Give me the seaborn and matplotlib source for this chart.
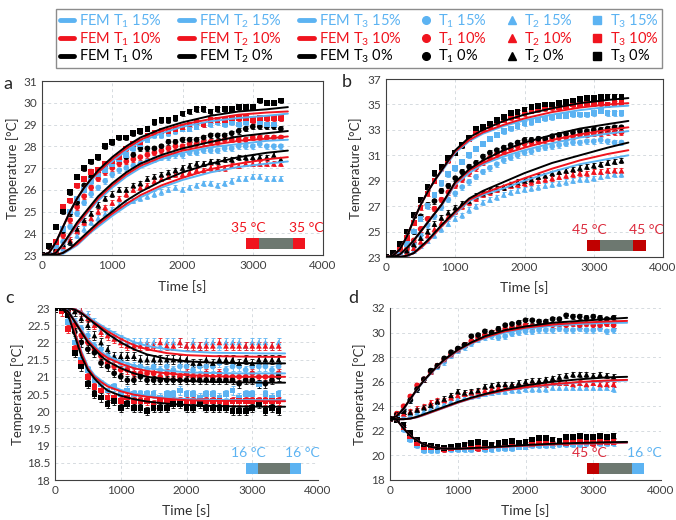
import pandas as pd
import matplotlib
matplotlib.use('Agg')
import matplotlib.pyplot as plt
from matplotlib.lines import Line2D
from matplotlib.patches import Rectangle
from matplotlib.ticker import MultipleLocator, FormatStrFormatter
import seaborn as sns

# measured points every 100 s, FEM curves read at the times below
t_meas = list(range(0, 3500, 100))
t_meas_d = list(range(0, 3400, 100))
t_fem = [0, 100, 200, 300, 400, 500, 600, 700, 800, 1000, 1200, 1400, 1700, 2000, 2400, 2800, 3200, 3500]

# ---- panel a (35 °C / 35 °C)
a_T1_0 = [23.0, 23.0, 23.2, 24.1, 24.9, 25.4, 26.2, 26.6, 26.8, 27.0, 27.2, 27.4, 27.5, 27.6, 27.9, 27.9, 27.9, 28.0, 28.2, 28.2, 28.3, 28.3, 28.3, 28.4, 28.5, 28.5, 28.5, 28.6, 28.7, 28.8, 28.9, 28.9, 28.9, 28.9, 28.8]
a_T1_10 = [23.0, 23.0, 23.1, 23.9, 24.6, 25.2, 25.7, 26.1, 26.5, 26.8, 27.0, 27.2, 27.3, 27.4, 27.5, 27.6, 27.7, 27.8, 27.9, 28.0, 28.0, 28.1, 28.1, 28.2, 28.2, 28.2, 28.3, 28.3, 28.3, 28.3, 28.4, 28.4, 28.4, 28.4, 28.4]
a_T1_15 = [23.0, 23.0, 23.0, 23.6, 24.3, 24.9, 25.4, 25.8, 26.1, 26.4, 26.7, 26.9, 27.0, 27.1, 27.2, 27.3, 27.4, 27.5, 27.5, 27.6, 27.6, 27.7, 27.7, 27.8, 27.8, 27.8, 27.9, 27.9, 28.0, 28.0, 28.0, 28.1, 28.0, 28.0, 28.0]
a_T2_0 = [23.0, 23.0, 23.5, 23.5, 23.6, 24.2, 24.6, 24.9, 25.3, 25.6, 25.8, 26.0, 26.0, 26.2, 26.3, 26.5, 26.6, 26.7, 26.8, 26.9, 27.0, 27.1, 27.2, 27.2, 27.3, 27.3, 27.4, 27.4, 27.5, 27.5, 27.5, 27.5, 27.5, 27.6, 27.4]
a_T2_10 = [23.0, 23.0, 23.2, 23.4, 23.7, 24.1, 24.5, 24.7, 25.0, 25.2, 25.4, 25.6, 25.8, 26.0, 26.1, 26.2, 26.4, 26.5, 26.6, 26.7, 26.7, 26.8, 26.9, 26.9, 27.0, 27.0, 27.0, 27.1, 27.1, 27.2, 27.2, 27.2, 27.2, 27.2, 27.2]
a_T2_15 = [23.0, 23.0, 23.0, 23.3, 23.6, 23.9, 24.2, 24.5, 24.7, 24.9, 25.1, 25.3, 25.4, 25.5, 25.6, 25.7, 25.8, 25.9, 26.0, 26.1, 26.0, 26.1, 26.2, 26.3, 26.3, 26.2, 26.3, 26.4, 26.5, 26.5, 26.6, 26.6, 26.5, 26.5, 26.5]
a_T3_0 = [23.0, 23.4, 24.3, 25.0, 25.9, 26.6, 27.0, 27.3, 27.5, 28.0, 28.2, 28.4, 28.4, 28.6, 28.7, 28.8, 29.1, 29.2, 29.2, 29.3, 29.5, 29.6, 29.7, 29.7, 29.6, 29.7, 29.7, 29.7, 29.8, 29.8, 29.8, 30.1, 30.0, 30.0, 30.1]
a_T3_10 = [23.0, 23.4, 23.6, 25.2, 25.5, 26.2, 26.5, 26.8, 26.9, 27.2, 27.3, 27.5, 27.9, 28.1, 28.2, 28.5, 28.6, 28.7, 28.7, 28.8, 28.9, 29.0, 29.1, 29.0, 29.2, 29.2, 29.2, 29.3, 29.3, 29.3, 29.2, 29.3, 29.3, 29.3, 29.3]
a_T3_15 = [23.0, 23.0, 23.4, 24.2, 25.0, 25.6, 26.0, 26.4, 26.7, 26.9, 27.2, 27.4, 27.6, 27.9, 28.1, 28.3, 28.5, 28.5, 28.6, 28.7, 28.8, 28.8, 28.9, 29.0, 29.0, 29.1, 29.0, 29.1, 29.0, 29.1, 29.2, 29.1, 29.0, 29.0, 29.3]
a_fem_T1_0 = [23.0, 23.0, 23.1, 23.5, 24.0, 24.5, 24.9, 25.3, 25.7, 26.3, 26.8, 27.2, 27.6, 27.9, 28.2, 28.45, 28.6, 28.7]
a_fem_T1_10 = [23.0, 23.0, 23.1, 23.5, 23.95, 24.4, 24.8, 25.2, 25.6, 26.2, 26.7, 27.1, 27.5, 27.8, 28.05, 28.25, 28.35, 28.45]
a_fem_T1_15 = [23.0, 23.0, 23.1, 23.45, 23.9, 24.35, 24.75, 25.15, 25.5, 26.1, 26.6, 27.0, 27.4, 27.7, 27.95, 28.1, 28.25, 28.3]
a_fem_T2_0 = [23.0, 23.0, 23.0, 23.1, 23.3, 23.6, 23.9, 24.2, 24.5, 25.0, 25.5, 25.9, 26.4, 26.8, 27.2, 27.5, 27.7, 27.8]
a_fem_T2_10 = [23.0, 23.0, 23.0, 23.1, 23.3, 23.5, 23.8, 24.1, 24.4, 24.9, 25.35, 25.75, 26.2, 26.55, 26.95, 27.2, 27.4, 27.5]
a_fem_T2_15 = [23.0, 23.0, 23.0, 23.05, 23.25, 23.45, 23.75, 24.05, 24.3, 24.8, 25.25, 25.65, 26.1, 26.45, 26.8, 27.05, 27.2, 27.3]
a_fem_T3_0 = [23.0, 23.1, 23.6, 24.3, 25.0, 25.6, 26.1, 26.5, 26.9, 27.5, 28.0, 28.4, 28.8, 29.1, 29.4, 29.6, 29.7, 29.8]
a_fem_T3_10 = [23.0, 23.1, 23.6, 24.3, 25.0, 25.6, 26.1, 26.5, 26.8, 27.4, 27.9, 28.3, 28.7, 29.0, 29.25, 29.45, 29.55, 29.6]
a_fem_T3_15 = [23.0, 23.1, 23.6, 24.3, 25.0, 25.6, 26.0, 26.4, 26.8, 27.3, 27.8, 28.2, 28.6, 28.9, 29.15, 29.3, 29.4, 29.5]

# ---- panel b (45 °C / 45 °C)
b_T1_0 = [23.0, 23.0, 23.3, 24.0, 25.0, 26.2, 27.1, 27.4, 28.2, 28.6, 29.2, 29.7, 30.1, 30.4, 30.9, 31.2, 31.4, 31.6, 31.8, 32.0, 32.2, 32.2, 32.3, 32.3, 32.5, 32.6, 32.7, 32.8, 32.9, 32.9, 33.0, 33.0, 33.1, 33.2, 33.2]
b_T1_10 = [23.0, 23.0, 23.1, 23.6, 24.3, 25.2, 26.0, 26.8, 27.5, 28.1, 28.6, 29.1, 29.6, 30.0, 30.4, 30.8, 31.1, 31.3, 31.5, 31.7, 31.9, 32.0, 32.1, 32.2, 32.3, 32.4, 32.4, 32.5, 32.6, 32.6, 32.7, 32.7, 32.8, 32.8, 32.8]
b_T1_15 = [23.0, 23.0, 23.0, 23.4, 24.0, 24.7, 25.5, 26.2, 26.9, 27.5, 28.0, 28.5, 28.9, 29.3, 29.7, 30.0, 30.3, 30.6, 30.8, 31.0, 31.2, 31.3, 31.5, 31.6, 31.7, 31.8, 31.9, 32.0, 32.0, 32.1, 32.1, 32.2, 32.1, 32.0, 32.0]
b_T2_0 = [23.0, 23.0, 23.2, 23.5, 24.0, 24.5, 25.0, 25.6, 26.1, 26.5, 26.9, 27.2, 27.4, 27.8, 28.0, 28.2, 28.4, 28.5, 28.7, 28.9, 29.0, 29.1, 29.3, 29.4, 29.6, 29.7, 29.8, 29.9, 30.0, 30.1, 30.2, 30.3, 30.4, 30.5, 30.6]
b_T2_10 = [23.0, 23.0, 23.1, 23.3, 23.7, 24.2, 24.7, 25.2, 25.7, 26.2, 26.6, 27.0, 27.3, 27.6, 27.9, 28.1, 28.3, 28.5, 28.6, 28.7, 28.8, 28.9, 29.0, 29.1, 29.2, 29.3, 29.4, 29.5, 29.6, 29.6, 29.7, 29.7, 29.8, 29.8, 29.8]
b_T2_15 = [23.0, 23.0, 23.0, 23.2, 23.5, 23.9, 24.3, 24.7, 25.2, 25.6, 26.0, 26.3, 26.7, 27.0, 27.3, 27.5, 27.7, 27.9, 28.1, 28.2, 28.3, 28.4, 28.5, 28.6, 28.7, 28.8, 28.9, 29.0, 29.1, 29.1, 29.2, 29.3, 29.4, 29.5, 29.5]
b_T3_0 = [23.0, 23.3, 24.0, 25.0, 26.3, 27.5, 28.5, 29.6, 30.1, 30.8, 31.2, 31.8, 32.4, 33.1, 33.2, 33.5, 33.8, 34.0, 34.3, 34.4, 34.6, 34.8, 34.9, 35.0, 35.0, 35.1, 35.2, 35.3, 35.4, 35.5, 35.5, 35.6, 35.6, 35.6, 35.6]
b_T3_10 = [23.0, 23.1, 23.6, 24.5, 25.7, 26.9, 28.0, 29.0, 30.0, 30.6, 31.2, 31.8, 32.3, 32.9, 33.1, 33.3, 33.6, 33.8, 34.0, 34.1, 34.3, 34.5, 34.6, 34.7, 34.8, 34.8, 34.9, 35.0, 35.0, 35.1, 35.1, 35.1, 35.0, 35.1, 35.1]
b_T3_15 = [23.0, 23.0, 23.3, 24.0, 25.0, 26.0, 27.0, 27.9, 28.8, 29.5, 30.0, 30.5, 31.0, 31.5, 31.9, 32.3, 32.6, 32.9, 33.1, 33.3, 33.5, 33.6, 33.8, 33.9, 34.0, 34.1, 34.1, 34.2, 34.2, 34.2, 34.3, 34.5, 34.3, 34.3, 34.3]
b_fem_T1_0 = [23.0, 23.0, 23.2, 23.7, 24.3, 25.0, 25.7, 26.4, 27.1, 28.9, 29.9, 30.6, 31.4, 32.0, 32.6, 33.1, 33.45, 33.7]
b_fem_T1_10 = [23.0, 23.0, 23.2, 23.7, 24.3, 25.0, 25.7, 26.4, 27.1, 28.8, 29.8, 30.4, 31.1, 31.6, 32.2, 32.65, 33.0, 33.2]
b_fem_T1_15 = [23.0, 23.0, 23.2, 23.7, 24.3, 25.0, 25.7, 26.4, 27.0, 28.7, 29.6, 30.3, 30.9, 31.4, 31.95, 32.4, 32.7, 32.9]
b_fem_T2_0 = [23.0, 23.0, 23.0, 23.1, 23.3, 23.8, 24.3, 24.9, 25.5, 26.6, 27.6, 28.2, 28.9, 29.6, 30.4, 31.0, 31.6, 32.0]
b_fem_T2_10 = [23.0, 23.0, 23.0, 23.1, 23.3, 23.7, 24.2, 24.8, 25.4, 26.5, 27.5, 28.0, 28.6, 29.2, 29.95, 30.6, 31.1, 31.4]
b_fem_T2_15 = [23.0, 23.0, 23.0, 23.1, 23.3, 23.7, 24.2, 24.8, 25.4, 26.4, 27.4, 27.9, 28.4, 29.0, 29.7, 30.3, 30.7, 31.0]
b_fem_T3_0 = [23.0, 23.1, 23.6, 24.6, 25.9, 27.1, 28.1, 29.0, 29.8, 31.4, 32.4, 33.0, 33.7, 34.2, 34.7, 35.1, 35.35, 35.5]
b_fem_T3_10 = [23.0, 23.1, 23.6, 24.6, 25.9, 27.1, 28.1, 29.0, 29.8, 31.3, 32.2, 32.8, 33.4, 33.9, 34.4, 34.75, 35.0, 35.1]
b_fem_T3_15 = [23.0, 23.1, 23.6, 24.6, 25.9, 27.1, 28.1, 29.0, 29.7, 31.2, 32.1, 32.7, 33.3, 33.75, 34.2, 34.55, 34.8, 34.9]

# ---- panel c (16 °C / 16 °C)
c_T1_0 = [23.0, 23.0, 22.8, 22.3, 22.0, 21.8, 21.7, 21.4, 21.3, 21.1, 21.0, 20.9, 20.9, 21.0, 20.9, 20.9, 20.9, 20.9, 20.9, 20.9, 20.9, 20.9, 20.9, 20.9, 20.9, 20.9, 20.9, 20.9, 20.8, 20.9, 20.9, 20.8, 20.8, 20.9, 21.0]
c_T1_10 = [23.0, 23.0, 22.9, 22.5, 22.2, 22.0, 21.8, 21.6, 21.4, 21.3, 21.2, 21.2, 21.1, 21.1, 21.1, 21.1, 21.0, 21.1, 21.1, 21.0, 21.1, 21.0, 21.0, 21.1, 21.0, 21.1, 21.0, 21.0, 21.0, 21.0, 21.1, 21.0, 21.0, 21.0, 21.1]
c_T1_15 = [23.0, 23.0, 22.9, 22.6, 22.4, 22.2, 21.9, 21.8, 21.6, 21.5, 21.4, 21.3, 21.3, 21.3, 21.2, 21.3, 21.2, 21.3, 21.2, 21.3, 21.3, 21.2, 21.3, 21.3, 21.3, 21.4, 21.2, 21.3, 21.3, 21.2, 21.3, 21.3, 21.3, 21.2, 21.3]
c_T2_0 = [23.0, 23.0, 23.0, 22.9, 22.7, 22.5, 22.2, 22.0, 21.8, 21.6, 21.6, 21.6, 21.6, 21.5, 21.5, 21.5, 21.5, 21.5, 21.5, 21.5, 21.5, 21.4, 21.4, 21.5, 21.4, 21.5, 21.5, 21.5, 21.4, 21.5, 21.4, 21.5, 21.5, 21.5, 21.5]
c_T2_10 = [23.0, 23.0, 23.0, 23.0, 22.9, 22.7, 22.5, 22.3, 22.2, 22.1, 22.0, 21.9, 21.9, 21.9, 21.9, 21.9, 22.0, 21.9, 21.9, 22.0, 21.9, 21.9, 21.9, 21.9, 21.9, 22.0, 21.9, 21.9, 21.9, 21.9, 21.9, 21.9, 21.9, 21.9, 21.9]
c_T2_15 = [23.0, 23.0, 23.0, 23.0, 22.9, 22.8, 22.6, 22.4, 22.3, 22.2, 22.1, 22.0, 22.0, 22.0, 22.0, 22.0, 21.9, 22.0, 22.0, 22.0, 21.9, 22.0, 21.9, 22.0, 22.0, 21.9, 22.0, 22.0, 22.0, 21.9, 22.0, 22.0, 22.0, 21.9, 22.0]
c_T3_0 = [23.0, 23.0, 22.8, 21.7, 21.3, 20.8, 20.5, 20.4, 20.2, 20.3, 20.1, 20.2, 20.1, 20.1, 20.0, 20.1, 20.1, 20.1, 20.2, 20.2, 20.1, 20.1, 20.2, 20.1, 20.1, 20.1, 20.1, 20.0, 20.0, 20.0, 20.1, 20.2, 20.0, 20.1, 20.0]
c_T3_10 = [23.0, 22.9, 22.4, 21.8, 21.4, 21.0, 20.7, 20.6, 20.4, 20.4, 20.3, 20.4, 20.3, 20.3, 20.3, 20.2, 20.3, 20.3, 20.3, 20.3, 20.3, 20.3, 20.3, 20.3, 20.3, 20.3, 20.2, 20.3, 20.3, 20.3, 20.3, 20.3, 20.3, 20.3, 20.3]
c_T3_15 = [23.0, 23.0, 22.6, 22.0, 21.5, 21.2, 20.9, 20.8, 20.6, 20.7, 20.5, 20.6, 20.5, 20.5, 20.5, 20.5, 20.4, 20.5, 20.5, 20.6, 20.5, 20.5, 20.4, 20.5, 20.5, 20.4, 20.5, 20.6, 20.4, 20.5, 20.5, 20.8, 20.5, 20.4, 20.5]
c_fem_T1_0 = [23.0, 23.0, 22.9, 22.6, 22.3, 22.0, 21.8, 21.6, 21.45, 21.25, 21.1, 21.0, 20.93, 20.88, 20.85, 20.84, 20.83, 20.83]
c_fem_T1_10 = [23.0, 23.0, 22.9, 22.62, 22.33, 22.05, 21.85, 21.68, 21.55, 21.38, 21.25, 21.17, 21.1, 21.05, 21.02, 21.0, 21.0, 21.0]
c_fem_T1_15 = [23.0, 23.0, 22.92, 22.65, 22.37, 22.1, 21.9, 21.73, 21.6, 21.45, 21.33, 21.25, 21.18, 21.13, 21.11, 21.1, 21.1, 21.1]
c_fem_T2_0 = [23.0, 23.0, 23.0, 22.95, 22.85, 22.7, 22.55, 22.4, 22.25, 22.0, 21.8, 21.65, 21.52, 21.45, 21.41, 21.4, 21.39, 21.39]
c_fem_T2_10 = [23.0, 23.0, 23.0, 22.96, 22.87, 22.72, 22.58, 22.45, 22.32, 22.1, 21.92, 21.8, 21.69, 21.63, 21.6, 21.59, 21.58, 21.58]
c_fem_T2_15 = [23.0, 23.0, 23.0, 22.97, 22.89, 22.75, 22.62, 22.5, 22.38, 22.18, 22.01, 21.9, 21.8, 21.74, 21.7, 21.69, 21.68, 21.68]
c_fem_T3_0 = [23.0, 23.0, 22.8, 22.2, 21.6, 21.2, 20.95, 20.75, 20.6, 20.45, 20.35, 20.28, 20.22, 20.18, 20.15, 20.14, 20.13, 20.13]
c_fem_T3_10 = [23.0, 23.0, 22.85, 22.3, 21.7, 21.25, 21.0, 20.85, 20.72, 20.58, 20.48, 20.42, 20.36, 20.32, 20.3, 20.3, 20.29, 20.29]
c_fem_T3_15 = [23.0, 23.0, 22.85, 22.3, 21.75, 21.3, 21.05, 20.9, 20.77, 20.62, 20.52, 20.45, 20.39, 20.35, 20.33, 20.32, 20.32, 20.32]

# ---- panel d (45 °C / 16 °C)
d_T1_0 = [23.0, 23.3, 23.6, 24.5, 25.4, 26.2, 26.9, 27.3, 27.9, 28.4, 28.7, 29.0, 29.7, 29.8, 30.1, 30.0, 30.3, 30.6, 30.7, 30.8, 31.0, 31.0, 30.9, 30.9, 31.1, 31.1, 31.4, 31.3, 31.3, 31.2, 31.3, 31.2, 31.1, 31.2]
d_T1_10 = [23.0, 23.4, 24.0, 24.8, 25.7, 26.2, 26.8, 27.3, 27.8, 28.2, 28.6, 29.0, 29.3, 29.6, 29.8, 30.0, 30.2, 30.3, 30.4, 30.5, 30.6, 30.5, 30.6, 30.7, 30.6, 30.7, 30.6, 30.7, 30.6, 30.7, 30.6, 30.6, 30.7, 30.6]
d_T1_15 = [23.0, 23.2, 23.7, 24.5, 25.4, 26.2, 26.8, 27.2, 27.6, 28.1, 28.5, 28.8, 29.1, 29.4, 29.6, 29.7, 29.6, 29.7, 29.9, 30.0, 30.1, 30.1, 30.2, 30.2, 30.2, 30.3, 30.2, 30.2, 30.3, 30.2, 30.2, 30.3, 30.1, 30.2]
d_T2_0 = [23.0, 23.0, 23.6, 23.5, 23.7, 23.9, 24.1, 24.4, 24.6, 24.9, 25.2, 25.1, 25.2, 25.3, 25.6, 25.7, 25.8, 25.8, 25.8, 25.9, 26.0, 26.1, 26.1, 26.2, 26.3, 26.4, 26.5, 26.6, 26.6, 26.6, 26.5, 26.6, 26.5, 26.4]
d_T2_10 = [23.0, 23.3, 23.4, 23.6, 23.8, 24.0, 24.3, 24.5, 24.5, 24.7, 24.9, 25.0, 25.1, 25.2, 25.3, 25.4, 25.5, 25.5, 25.6, 25.6, 25.7, 25.8, 25.8, 25.8, 25.9, 25.9, 25.9, 25.8, 25.9, 25.8, 25.9, 25.8, 25.8, 25.8]
d_T2_15 = [23.0, 23.0, 23.2, 23.3, 23.5, 23.6, 23.8, 24.0, 24.2, 24.4, 24.6, 24.7, 24.8, 24.9, 25.0, 25.1, 25.2, 25.2, 25.3, 25.3, 25.4, 25.4, 25.4, 25.4, 25.5, 25.5, 25.5, 25.5, 25.5, 25.5, 25.5, 25.5, 25.5, 25.4]
d_T3_0 = [23.0, 22.9, 22.5, 21.8, 21.3, 20.9, 20.8, 20.7, 20.6, 20.7, 20.8, 20.9, 21.0, 21.1, 21.0, 20.9, 21.0, 21.1, 21.2, 21.0, 21.1, 21.3, 21.4, 21.4, 21.3, 21.2, 21.5, 21.5, 21.6, 21.5, 21.5, 21.6, 21.5, 21.6]
d_T3_10 = [23.0, 22.9, 22.3, 21.6, 21.0, 20.7, 20.7, 20.7, 20.5, 20.6, 20.7, 20.8, 20.7, 20.6, 20.7, 20.8, 20.8, 20.8, 20.9, 20.9, 20.9, 20.9, 21.0, 21.1, 21.0, 21.1, 21.0, 21.1, 21.1, 21.1, 21.0, 21.1, 21.1, 21.1]
d_T3_15 = [23.0, 23.0, 22.1, 21.3, 20.8, 20.4, 20.4, 20.4, 20.5, 20.5, 20.5, 20.5, 20.5, 20.6, 20.5, 20.5, 20.6, 20.6, 20.6, 20.7, 20.7, 20.8, 20.8, 20.8, 20.8, 20.9, 20.9, 20.9, 20.9, 21.0, 21.0, 21.0, 21.0, 21.0]
d_fem_T1_0 = [23.0, 23.2, 23.8, 24.6, 25.4, 26.1, 26.7, 27.3, 27.8, 28.6, 29.2, 29.7, 30.2, 30.5, 30.8, 30.95, 31.1, 31.2]
d_fem_T1_10 = [23.0, 23.2, 23.8, 24.6, 25.4, 26.1, 26.7, 27.25, 27.75, 28.55, 29.15, 29.6, 30.1, 30.4, 30.65, 30.8, 30.9, 30.95]
d_fem_T1_15 = [23.0, 23.2, 23.75, 24.55, 25.35, 26.05, 26.65, 27.2, 27.7, 28.5, 29.1, 29.55, 30.0, 30.3, 30.55, 30.7, 30.78, 30.8]
d_fem_T2_0 = [23.0, 22.95, 22.95, 23.0, 23.15, 23.35, 23.55, 23.75, 23.95, 24.35, 24.7, 25.0, 25.4, 25.7, 26.0, 26.2, 26.35, 26.4]
d_fem_T2_10 = [23.0, 22.95, 22.95, 23.0, 23.12, 23.3, 23.5, 23.7, 23.9, 24.3, 24.65, 24.95, 25.3, 25.55, 25.8, 25.98, 26.1, 26.15]
d_fem_T2_15 = [23.0, 22.95, 22.95, 23.0, 23.1, 23.28, 23.48, 23.68, 23.88, 24.28, 24.62, 24.92, 25.27, 25.5, 25.75, 25.95, 26.05, 26.1]
d_fem_T3_0 = [23.0, 22.9, 22.2, 21.6, 21.2, 20.9, 20.7, 20.6, 20.55, 20.55, 20.6, 20.65, 20.75, 20.85, 20.95, 21.02, 21.07, 21.1]
d_fem_T3_10 = [23.0, 22.9, 22.2, 21.6, 21.2, 20.9, 20.7, 20.6, 20.55, 20.53, 20.57, 20.62, 20.72, 20.8, 20.9, 20.97, 21.02, 21.05]
d_fem_T3_15 = [23.0, 22.9, 22.2, 21.6, 21.2, 20.9, 20.7, 20.6, 20.55, 20.53, 20.56, 20.6, 20.7, 20.78, 20.88, 20.95, 21.0, 21.04]

# y tick labels of each panel
a_yticks = [23, 24, 25, 26, 27, 28, 29, 30, 31]
b_yticks = [23, 25, 27, 29, 31, 33, 35, 37]
c_yticks = [18, 18.5, 19, 19.5, 20, 20.5, 21, 21.5, 22, 22.5, 23]
d_yticks = [18, 20, 22, 24, 26, 28, 30, 32]

# typical error bar half-width per panel [°C]
err = {'a': 0.12, 'b': 0.2, 'c': 0.12, 'd': 0.2}

conds = ['15%', '10%', '0%']
sensors = ['T1', 'T2', 'T3']
BLUE, RED, BLACK = '#5cb3f2', '#f0141e', '#000000'
colors = {'15%': BLUE, '10%': RED, '0%': BLACK}
markers = {'T1': 'o', 'T2': '^', 'T3': 's'}

g = globals()
meas_rows, fem_rows = [], []
for p in 'abcd':
    tm = t_meas_d if p == 'd' else t_meas
    for s in sensors:
        for c in conds:
            key = c.rstrip('%')
            for t, v in zip(tm, g[f'{p}_{s}_{key}']):
                meas_rows.append((p, s, c, t, v))
            for t, v in zip(t_fem, g[f'{p}_fem_{s}_{key}']):
                fem_rows.append((p, s, c, t, v))
meas = pd.DataFrame(meas_rows, columns=['panel', 'sensor', 'cond', 'time', 'temp'])
fem = pd.DataFrame(fem_rows, columns=['panel', 'sensor', 'cond', 'time', 'temp'])

sns.set_style('white')
plt.rcParams['font.family'] = ['Lato', 'DejaVu Sans']
plt.rcParams['mathtext.fontset'] = 'custom'
plt.rcParams['mathtext.rm'] = 'Lato'
plt.rcParams['mathtext.it'] = 'Lato:italic'

W, H = 676, 520
fig = plt.figure(figsize=(W / 100, H / 100), dpi=100)


def px_axes(l, t, r, b):
    return fig.add_axes([l / W, 1 - b / H, (r - l) / W, (b - t) / H])


# layout, limits, ticks, annotation colours per panel
setup = {
    'a': dict(rect=(42, 81, 323, 255), yticks=a_yticks, ymin=0.2, box=True,
              lab=(-0.082, -0.143), bars=(RED, RED), texts=('35 °C', '35 °C'), tcol=(RED, RED)),
    'b': dict(rect=(386, 79, 663, 257), yticks=b_yticks, ymin=0.5, box=True,
              lab=(-0.087, -0.134), bars=('#c00000', '#c00000'), texts=('45 °C', '45 °C'),
              tcol=('#dc2a3c', '#dc2a3c')),
    'c': dict(rect=(55, 308, 318, 480), yticks=c_yticks, ymin=0.25, box=False,
              lab=(-0.118, -0.14), bars=(BLUE, BLUE), texts=('16 °C', '16 °C'), tcol=(BLUE, BLUE)),
    'd': dict(rect=(390, 308, 661, 480), yticks=d_yticks, ymin=None, box=False,
              lab=(-0.089, -0.14), bars=('#c00000', BLUE), texts=('45 °C', '16 °C'),
              tcol=('#dc2a3c', BLUE)),
}

for p, cfg in setup.items():
    ax = px_axes(*cfg['rect'])
    fp = fem[fem.panel == p]
    mp = meas[meas.panel == p]
    for c in conds:
        for s in sensors:
            q = mp[(mp.cond == c) & (mp.sensor == s)]
            ax.errorbar(q.time, q.temp, yerr=err[p], fmt='none', ecolor=colors[c],
                        elinewidth=0.6, capsize=1.4, capthick=0.6, zorder=2)
    sns.scatterplot(data=mp, x='time', y='temp', hue='cond', style='sensor',
                    hue_order=conds, palette=colors, markers=markers, s=17,
                    linewidth=0, legend=False, ax=ax, zorder=3)
    sns.lineplot(data=fp, x='time', y='temp', hue='cond', units='sensor',
                 estimator=None, hue_order=conds, palette=colors, lw=1.4,
                 legend=False, ax=ax, zorder=4)

    ax.set_xlim(0, 4000)
    ax.set_ylim(cfg['yticks'][0], cfg['yticks'][-1])
    ax.xaxis.set_major_locator(MultipleLocator(1000))
    ax.set_yticks(cfg['yticks'])
    ax.yaxis.set_major_formatter(FormatStrFormatter('%g'))
    if cfg['box']:
        ax.xaxis.set_minor_locator(MultipleLocator(200))
    if cfg['ymin']:
        ax.yaxis.set_minor_locator(MultipleLocator(cfg['ymin']))
    ax.tick_params(which='both', direction='in', colors='#404040', labelsize=8.5)
    ax.tick_params(which='major', length=3, width=0.7)
    ax.tick_params(which='minor', length=2, width=0.6)
    ax.grid(True, which='major', ls=(0, (3, 3)), color='#d6dbe0', lw=0.7)
    ax.set_axisbelow(True)
    for side, sp in ax.spines.items():
        sp.set_color('#404040')
        sp.set_linewidth(0.8)
        if not cfg['box'] and side in ('top', 'right'):
            sp.set_visible(False)
    ax.set_xlabel('Time [s]', fontsize=10, color='#303030')
    ax.set_ylabel('Temperature [°C]', fontsize=9.5, color='#303030')
    ax.xaxis.set_label_coords(0.5, cfg['lab'][1])
    ax.yaxis.set_label_coords(cfg['lab'][0], 0.5)

    # heater/cooler sketch in the lower right corner
    y0, hb = 0.035, 0.062
    ax.add_patch(Rectangle((0.727, y0), 0.045, hb, transform=ax.transAxes,
                           color=cfg['bars'][0], lw=0, zorder=5))
    ax.add_patch(Rectangle((0.772, y0), 0.12, hb, transform=ax.transAxes,
                           color='#6d7870', lw=0, zorder=5))
    ax.add_patch(Rectangle((0.892, y0), 0.045, hb, transform=ax.transAxes,
                           color=cfg['bars'][1], lw=0, zorder=5))
    ax.text(0.735, 0.12, cfg['texts'][0], transform=ax.transAxes, ha='center',
            va='bottom', color=cfg['tcol'][0], fontsize=10, zorder=6)
    ax.text(0.94, 0.12, cfg['texts'][1], transform=ax.transAxes, ha='center',
            va='bottom', color=cfg['tcol'][1], fontsize=10, zorder=6)

# panel letters
for letter, (x, y) in {'a': (8, 84), 'b': (347, 82), 'c': (10, 298), 'd': (353, 298)}.items():
    fig.text(x / W, 1 - y / H, letter, fontsize=13, ha='center', va='center')

# legend box: FEM curves first, then measured points, column by column
handles, labels, tcols = [], [], []
for s in sensors:
    for c in conds:
        handles.append(Line2D([], [], color=colors[c], lw=3.5))
        labels.append(f'FEM T$_{s[1]}$ {c}')
        tcols.append(colors[c])
for s in sensors:
    for c in conds:
        handles.append(Line2D([], [], ls='none', marker=markers[s], color=colors[c], markersize=5.5))
        labels.append(f'T$_{s[1]}$ {c}')
        tcols.append(colors[c])
leg = fig.legend(handles, labels, ncol=6, loc='upper left', mode='expand',
                 bbox_to_anchor=(49 / W, 1 - 2 / H, 620 / W, 0.0), fontsize=10.5,
                 frameon=True, fancybox=False, edgecolor='#707070',
                 handlelength=1.0, handletextpad=0.35, labelspacing=0.02,
                 borderpad=0.22, columnspacing=0.6)
leg.get_frame().set_linewidth(1.0)
for txt, col in zip(leg.get_texts(), tcols):
    txt.set_color(col)

fig.savefig('out.png', dpi=100)
